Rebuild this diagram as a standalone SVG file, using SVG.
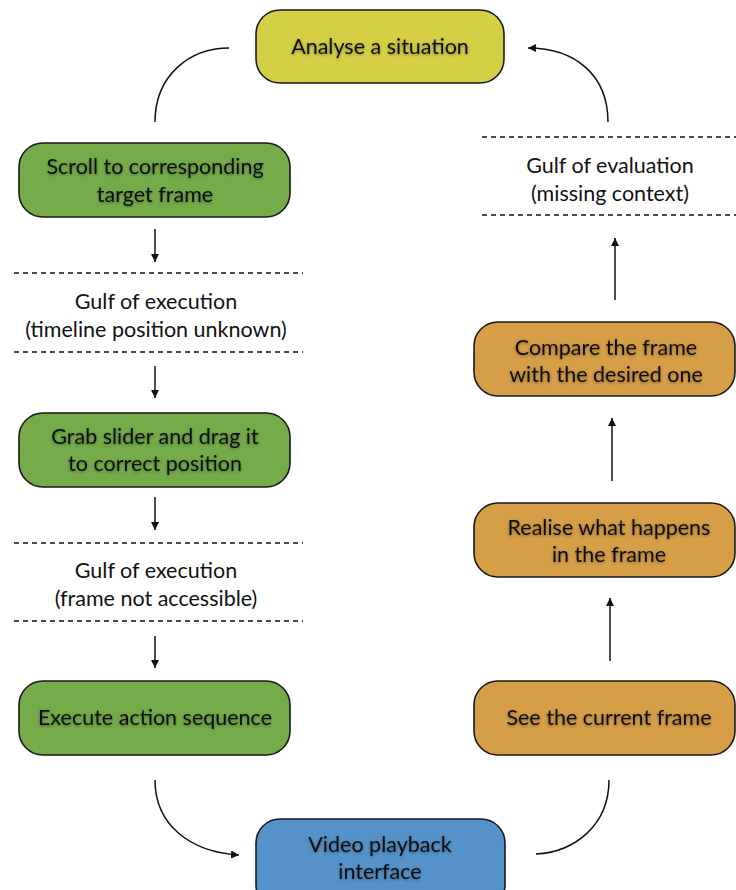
<svg xmlns="http://www.w3.org/2000/svg" width="736" height="890" viewBox="0 0 736 890">
<style>
.box{stroke:#1a1a1a;stroke-width:1.6}
.y{fill:#d5cf45}.g{fill:#76ab49}.o{fill:#d69e46}.b{fill:#5592c9}
text{font-family:Lato,"Liberation Sans",sans-serif;font-size:21.5px;fill:#111;text-anchor:middle}
.nt{filter:url(#sh)}
.dash{stroke:#111;stroke-width:1.4;stroke-dasharray:5 4;fill:none}
.ln{stroke:#111;stroke-width:1.5;fill:none}
</style>
<defs>
<marker id="ah" viewBox="0 0 10 10" refX="10" refY="5" markerWidth="8" markerHeight="8" markerUnits="userSpaceOnUse" orient="auto">
<path d="M0,0 L10,5 L0,10 z" fill="#111"/>
</marker>
<filter id="sh" x="-10%" y="-30%" width="120%" height="160%">
<feDropShadow dx="0" dy="1" stdDeviation="1.8" flood-color="#000" flood-opacity="0.4"/>
</filter>
</defs>
<rect width="736" height="890" fill="#fff"/>

<g id="connectors">
<path class="ln" d="M155,122 C155,75 190,48 229,48"/>
<path class="ln" d="M608,122 C608,75 575,48 528,48" marker-end="url(#ah)"/>
<path class="ln" d="M155,780 C155,825 190,852 239,855" marker-end="url(#ah)"/>
<path class="ln" d="M609,780 C609,825 575,852 536,854"/>
<line class="ln" x1="155" y1="229" x2="155" y2="262" marker-end="url(#ah)"/>
<line class="ln" x1="155" y1="366" x2="155" y2="398" marker-end="url(#ah)"/>
<line class="ln" x1="155" y1="497" x2="155" y2="530" marker-end="url(#ah)"/>
<line class="ln" x1="155" y1="636" x2="155" y2="668" marker-end="url(#ah)"/>
<line class="ln" x1="615" y1="300" x2="615" y2="238" marker-end="url(#ah)"/>
<line class="ln" x1="612" y1="481" x2="612" y2="418" marker-end="url(#ah)"/>
<line class="ln" x1="610" y1="661" x2="610" y2="598" marker-end="url(#ah)"/>
</g>

<g id="gulf-exec-1">
<line class="dash" x1="14" y1="273" x2="303" y2="273"/>
<line class="dash" x1="14" y1="352" x2="303" y2="352"/>
<text x="156" y="309">Gulf of execution</text>
<text x="156" y="337">(timeline position unknown)</text>
</g>
<g id="gulf-exec-2">
<line class="dash" x1="14" y1="543" x2="303" y2="543"/>
<line class="dash" x1="14" y1="621" x2="303" y2="621"/>
<text x="156" y="578">Gulf of execution</text>
<text x="156" y="606">(frame not accessible)</text>
</g>
<g id="gulf-eval">
<line class="dash" x1="482" y1="137" x2="736" y2="137"/>
<line class="dash" x1="482" y1="215" x2="736" y2="215"/>
<text x="610" y="173">Gulf of evaluation</text>
<text x="610" y="201">(missing context)</text>
</g>

<g id="analyse">
<rect class="box y" x="256" y="10" width="248" height="73" rx="24"/>
<text class="nt" x="380" y="54">Analyse a situation</text>
</g>
<g id="scroll">
<rect class="box g" x="19" y="143" width="271" height="74" rx="24"/>
<text class="nt" x="155" y="174">Scroll to corresponding</text>
<text class="nt" x="155" y="202">target frame</text>
</g>
<g id="grab">
<rect class="box g" x="19" y="413" width="271" height="74" rx="24"/>
<text class="nt" x="155" y="444">Grab slider and drag it</text>
<text class="nt" x="155" y="471">to correct position</text>
</g>
<g id="execute">
<rect class="box g" x="19" y="681" width="271" height="74" rx="24"/>
<text class="nt" x="155" y="725">Execute action sequence</text>
</g>
<g id="compare">
<rect class="box o" x="474" y="322" width="261" height="74" rx="24"/>
<text class="nt" x="606" y="355">Compare the frame</text>
<text class="nt" x="606" y="382">with the desired one</text>
</g>
<g id="realise">
<rect class="box o" x="474" y="503" width="261" height="74" rx="24"/>
<text class="nt" x="609" y="535">Realise what happens</text>
<text class="nt" x="609" y="562">in the frame</text>
</g>
<g id="see">
<rect class="box o" x="474" y="681" width="261" height="74" rx="24"/>
<text class="nt" x="609" y="725">See the current frame</text>
</g>
<g id="video">
<rect class="box b" x="256" y="819" width="249" height="90" rx="24"/>
<text class="nt" x="380" y="852">Video playback</text>
<text class="nt" x="380" y="879">interface</text>
</g>
</svg>
